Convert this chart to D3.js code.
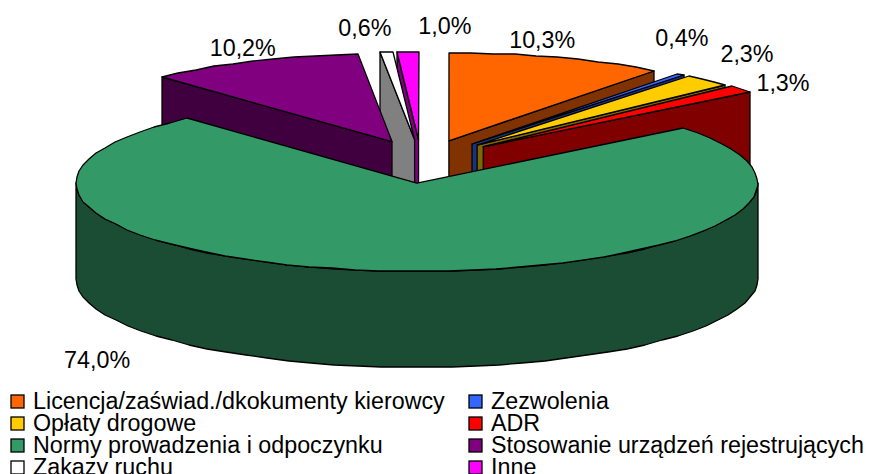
<!DOCTYPE html>
<html lang="pl">
  <head>
    <meta charset="UTF-8">
    <title>Naruszenia - wykres kołowy</title>
    <style>
      html, body { margin: 0; padding: 0; background: #fff; overflow: hidden; }
      svg { display: block; }
      text { font-family: "Liberation Sans", Arial, sans-serif; fill: #000; }
      .slice path { stroke: #000; stroke-width: 1.3; stroke-linejoin: round; }
      .label { font-size: 23.3px; text-anchor: middle; dominant-baseline: central; }
      .legend text { font-size: 23.3px; }
      .legend rect { stroke: #000; stroke-width: 1.3; }
    </style>
    <script src="https://d3js.org/d3.v7.min.js"></script>
  </head>
  <body>
    <script>
      const categories = [
        "Licencja/zaświad./dkokumenty kierowcy", "Zezwolenia", "Opłaty drogowe", "ADR",
        "Normy prowadzenia i odpoczynku", "Stosowanie urządzeń rejestrujących", "Zakazy ruchu", "Inne"
      ];
      const values = [10.3, 0.4, 2.3, 1.3, 74.0, 10.2, 0.6, 1.0];
      const valueLabels = ["10,3%", "0,4%", "2,3%", "1,3%", "74,0%", "10,2%", "0,6%", "1,0%"];
      const colors = ["#ff6600", "#3366ff", "#ffcc00", "#ff0000", "#339966", "#800080", "#ffffff", "#ff00ff"];
      const sideColors = ["#803300", "#1a3380", "#806600", "#800000", "#1a4d33", "#400040", "#808080", "#800080"];

      // back slices first, the green one has to sit on top of everything
      const drawOrder = [7, 6, 5, 0, 1, 2, 3, 4];
      // label nudge from the middle of each slice's outer edge
      const labelNudge = [[-15, -17], [1, -36], [39, -26], [42, -6], [-293, 89], [-10, -13], [-22, -24], [37, -26]];
      // the original explosion is not quite even, small per-slice correction
      const sliceNudge = [[0, 0], [0, 0], [0, 0], [0, 0], [-1, 3], [0, 0], [-3, 0], [-3, 0]];

      const width = 869;
      const height = 474;
      const cx = 424, cy = 160;
      const rx = 341, ry = 88;
      const depth = 96;
      const explode = 0.23;

      const svg = d3.select("body").append("svg")
        .attr("width", width)
        .attr("height", height);

      const arcs = d3.pie().sort(null).startAngle(0).endAngle(2 * Math.PI)(values);
      const line = d3.line();

      // rounding to whole pixels gives the slightly wobbly outline of the original
      const rim = (a, o, drop = 0) => [
        Math.round(o[0] + rx * Math.sin(a)),
        Math.round(o[1] - ry * Math.cos(a) + drop)
      ];

      const arcPoints = (a0, a1, o, drop = 0) => {
        const n = Math.max(1, Math.ceil((a1 - a0) / 0.07));
        return d3.range(n + 1).map(i => rim(a0 + (a1 - a0) * i / n, o, drop));
      };

      const apexOf = d => {
        const m = (d.startAngle + d.endAngle) / 2;
        const n = sliceNudge[d.index];
        return [cx + n[0] + explode * rx * Math.sin(m), cy + n[1] - explode * ry * Math.cos(m)];
      };

      const sideWall = (a, o) => {
        const tip = rim(a, o);
        return [o, tip, [tip[0], tip[1] + depth], [o[0], o[1] + depth]];
      };

      const g = svg.selectAll(".slice")
        .data(drawOrder.map(i => arcs[i]))
        .enter()
        .append("g")
        .attr("class", "slice");

      g.each(function(d) {
        const o = apexOf(d);
        const sel = d3.select(this);
        const m = (d.startAngle + d.endAngle) / 2;

        // only the rim between 90 and 270 degrees faces the viewer
        const lo = Math.max(d.startAngle, Math.PI / 2);
        const hi = Math.min(d.endAngle, 3 * Math.PI / 2);
        if (hi > lo) {
          const top = arcPoints(lo, hi, o);
          const bottom = arcPoints(lo, hi, o, depth).reverse();
          sel.append("path")
            .attr("d", line(top.concat(bottom)) + "Z")
            .attr("fill", sideColors[d.index]);
        } else {
          const a = m < Math.PI ? d.endAngle : d.startAngle;
          sel.append("path")
            .attr("d", line(sideWall(a, o)) + "Z")
            .attr("fill", sideColors[d.index]);
        }

        sel.append("path")
          .attr("d", line([o].concat(arcPoints(d.startAngle, d.endAngle, o))) + "Z")
          .attr("fill", colors[d.index]);
      });

      svg.selectAll(".label")
        .data(arcs)
        .enter()
        .append("text")
        .attr("class", "label")
        .attr("x", d => {
          const m = (d.startAngle + d.endAngle) / 2;
          return apexOf(d)[0] + rx * Math.sin(m) + labelNudge[d.index][0];
        })
        .attr("y", d => {
          const m = (d.startAngle + d.endAngle) / 2;
          return apexOf(d)[1] - ry * Math.cos(m) + labelNudge[d.index][1];
        })
        .text(d => valueLabels[d.index]);

      // legend runs two columns, last row is cut by the bottom of the image
      const legendX = d3.scaleOrdinal().domain([0, 1]).range([11, 469]);
      const legendY = d3.scaleLinear().domain([0, 3]).range([395, 461]);

      const legend = svg.selectAll(".legend")
        .data(categories)
        .enter()
        .append("g")
        .attr("class", "legend")
        .attr("transform", (d, i) => `translate(${legendX(i % 2)},${legendY(Math.floor(i / 2))})`);

      legend.append("rect")
        .attr("width", 13)
        .attr("height", 13)
        .attr("fill", (d, i) => colors[i]);

      legend.append("text")
        .attr("x", 22)
        .attr("y", 14)
        .text(d => d);
    </script>
  </body>
</html>
